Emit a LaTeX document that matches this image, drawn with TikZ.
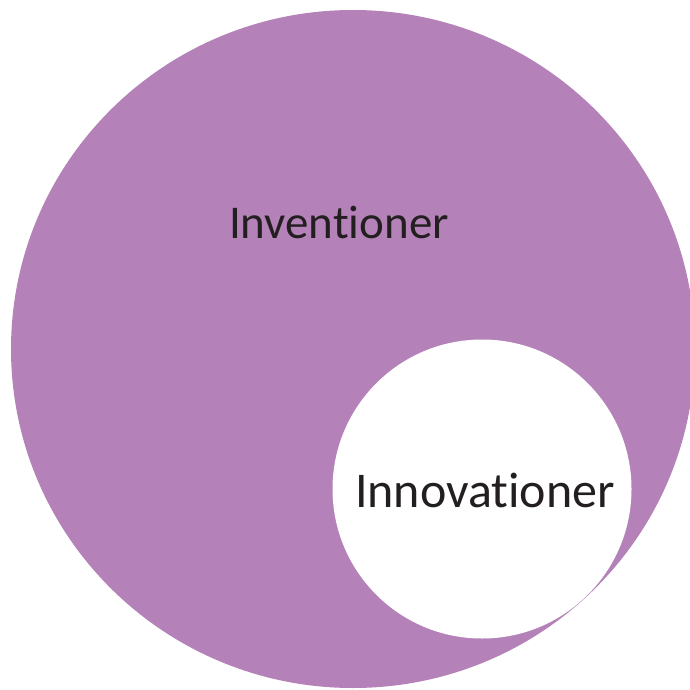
\documentclass[tikz,border=0pt]{standalone}
\usepackage{fontspec}
\setmainfont{Carlito}[Ligatures=NoCommon]
\usetikzlibrary{shapes.geometric}
\definecolor{lilac}{RGB}{180,130,185}
\definecolor{ink}{RGB}{35,31,32}
\begin{document}
\begin{tikzpicture}[x=0.5pt,y=-0.5pt]
                    \useasboundingbox (0,0) rectangle (690,690);
                    %CIRCLE
                    \node[ellipse,fill=lilac,minimum width=684*0.5pt,minimum height=678*0.5pt,inner sep=0pt] (A) at (353,349){};
                    \node[circle,fill=white,minimum size=299*0.5pt,inner sep=0pt] (B) at (482,489){};
                    
                    %TEXT
                    \node[text=ink,font=\fontsize{23.5}{28}\selectfont] (a) at (339,223){Inventioner};
                    \node[text=ink,font=\fontsize{25}{30}\selectfont] (b) at (485,490){Innovationer};
                \end{tikzpicture}
\end{document}
